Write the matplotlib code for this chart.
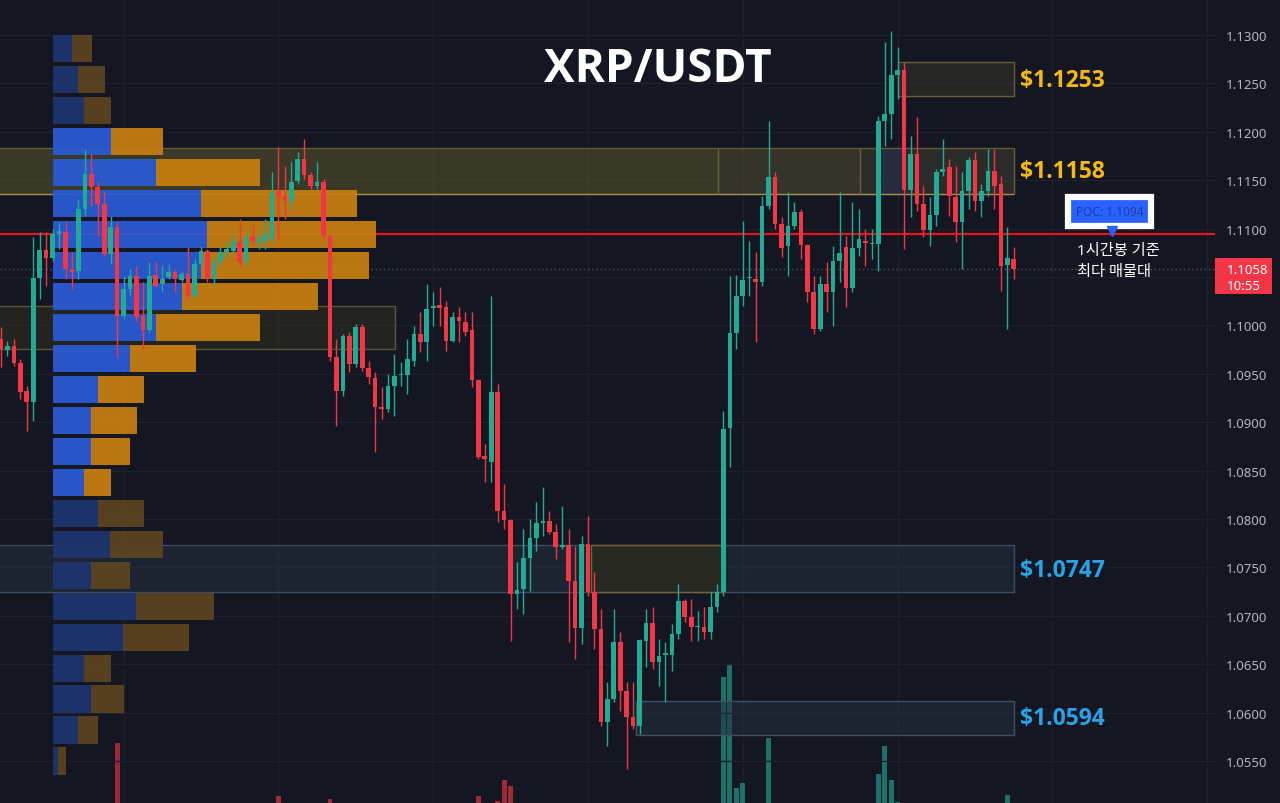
import numpy as np
import matplotlib
matplotlib.use('Agg')
import matplotlib.pyplot as plt
import matplotlib.transforms as mtransforms
from matplotlib.patches import Rectangle
from matplotlib.colors import to_rgba

plt.rcParams['font.family'] = ['Noto Sans', 'Noto Sans CJK KR', 'DejaVu Sans']

# 1h candles, XRP/USDT
opens = [1.0986, 1.0975, 1.0979, 1.0961, 1.0932, 1.0921, 1.1049, 1.1078, 1.1070, 1.1094,
         1.1096, 1.1058, 1.1056, 1.1120, 1.1156, 1.1143, 1.1125, 1.1074, 1.1102, 1.1010,
         1.1038, 1.1051, 1.1010, 1.0995, 1.1052, 1.1043, 1.1050, 1.1055, 1.1047, 1.1053,
         1.1030, 1.1063, 1.1077, 1.1048, 1.1065, 1.1076, 1.1077, 1.1086, 1.1065, 1.1091,
         1.1085, 1.1087, 1.1089, 1.1139, 1.1134, 1.1129, 1.1149, 1.1172, 1.1155, 1.1144,
         1.1148, 1.1092, 1.0967, 1.0932, 1.0989, 1.0960, 1.0998, 1.0956, 1.0946, 1.0916,
         1.0914, 1.0937, 1.0949, 1.0949, 1.0963, 1.0991, 1.0983, 1.1018, 1.1021, 1.1019,
         1.0984, 1.1009, 1.1004, 1.0995, 1.0944, 1.0865, 1.0859, 1.0931, 1.0808, 1.0799,
         1.0723, 1.0728, 1.0760, 1.0780, 1.0796, 1.0798, 1.0787, 1.0771, 1.0773, 1.0736,
         1.0687, 1.0774, 1.0725, 1.0686, 1.0590, 1.0614, 1.0673, 1.0622, 1.0595, 1.0586,
         1.0674, 1.0693, 1.0652, 1.0660, 1.0660, 1.0681, 1.0715, 1.0699, 1.0688, 1.0688,
         1.0683, 1.0709, 1.0725, 1.0894, 1.0992, 1.1030, 1.1049, 1.1048, 1.1045, 1.1123,
         1.1153, 1.1105, 1.1082, 1.1103, 1.1117, 1.1083, 1.1034, 1.0996, 1.1043, 1.1034,
         1.1067, 1.1081, 1.1039, 1.1080, 1.1087, 1.1084, 1.1084, 1.1211, 1.1218, 1.1259,
         1.1264, 1.1140, 1.1177, 1.1125, 1.1099, 1.1114, 1.1158, 1.1164, 1.1133, 1.1107,
         1.1139, 1.1171, 1.1129, 1.1139, 1.1160, 1.1146, 1.1062, 1.1069]
highs = [1.0998, 1.0984, 1.0986, 1.0965, 1.0937, 1.1091, 1.1096, 1.1096, 1.1100, 1.1107,
         1.1107, 1.1076, 1.1131, 1.1182, 1.1177, 1.1148, 1.1138, 1.1113, 1.1107, 1.1051,
         1.1058, 1.1061, 1.1045, 1.1065, 1.1065, 1.1061, 1.1063, 1.1058, 1.1056, 1.1081,
         1.1069, 1.1082, 1.1079, 1.1072, 1.1082, 1.1086, 1.1094, 1.1110, 1.1098, 1.1104,
         1.1098, 1.1110, 1.1158, 1.1184, 1.1165, 1.1169, 1.1179, 1.1193, 1.1158, 1.1169,
         1.1151, 1.1094, 1.0986, 1.0991, 1.0993, 1.1001, 1.1001, 1.0963, 1.0952, 1.0936,
         1.0950, 1.0970, 1.0962, 1.0986, 1.0999, 1.1014, 1.1043, 1.1034, 1.1040, 1.1025,
         1.1014, 1.1019, 1.1014, 1.1014, 1.0945, 1.0877, 1.1030, 1.0939, 1.0836, 1.0800,
         1.0756, 1.0790, 1.0800, 1.0818, 1.0833, 1.0808, 1.0795, 1.0813, 1.0790, 1.0772,
         1.0782, 1.0803, 1.0745, 1.0707, 1.0632, 1.0707, 1.0683, 1.0632, 1.0632, 1.0676,
         1.0707, 1.0709, 1.0676, 1.0673, 1.0692, 1.0733, 1.0717, 1.0717, 1.0705, 1.0709,
         1.0725, 1.0733, 1.0912, 1.1051, 1.1052, 1.1108, 1.1087, 1.1076, 1.1134, 1.1211,
         1.1158, 1.1112, 1.1138, 1.1127, 1.1120, 1.1084, 1.1051, 1.1051, 1.1065, 1.1082,
         1.1138, 1.1092, 1.1127, 1.1120, 1.1100, 1.1100, 1.1216, 1.1293, 1.1304, 1.1288,
         1.1272, 1.1196, 1.1215, 1.1144, 1.1133, 1.1162, 1.1193, 1.1172, 1.1165, 1.1158,
         1.1174, 1.1179, 1.1146, 1.1182, 1.1182, 1.1154, 1.1102, 1.1081]
lows = [1.0957, 1.0968, 1.0958, 1.0924, 1.0891, 1.0901, 1.1027, 1.1041, 1.1067, 1.1079,
        1.1048, 1.1038, 1.1048, 1.1113, 1.1123, 1.1092, 1.1072, 1.1063, 1.0967, 1.1007,
        1.1030, 1.1005, 1.0976, 1.0993, 1.1040, 1.1034, 1.1048, 1.1034, 1.1045, 1.1027,
        1.1027, 1.1061, 1.1045, 1.1041, 1.1061, 1.1071, 1.1074, 1.1061, 1.1063, 1.1083,
        1.1079, 1.1079, 1.1086, 1.1089, 1.1110, 1.1120, 1.1146, 1.1151, 1.1141, 1.1141,
        1.1089, 1.0963, 1.0896, 1.0927, 1.0952, 1.0957, 1.0953, 1.0939, 1.0869, 1.0903,
        1.0911, 1.0906, 1.0937, 1.0929, 1.0958, 1.0973, 1.0963, 1.0999, 1.0999, 1.0974,
        1.0983, 1.0983, 1.0989, 1.0936, 1.0862, 1.0838, 1.0838, 1.0797, 1.0790, 1.0674,
        1.0707, 1.0702, 1.0726, 1.0767, 1.0782, 1.0785, 1.0759, 1.0769, 1.0673, 1.0655,
        1.0671, 1.0720, 1.0666, 1.0586, 1.0565, 1.0611, 1.0602, 1.0542, 1.0583, 1.0578,
        1.0647, 1.0645, 1.0627, 1.0611, 1.0643, 1.0676, 1.0694, 1.0674, 1.0674, 1.0676,
        1.0676, 1.0704, 1.0720, 1.0854, 1.0976, 1.1020, 1.1030, 1.0983, 1.1041, 1.1120,
        1.1100, 1.1071, 1.1051, 1.1100, 1.1069, 1.1024, 1.0991, 1.0994, 1.1014, 1.0999,
        1.1045, 1.1019, 1.1034, 1.1072, 1.1061, 1.1069, 1.1056, 1.1185, 1.1193, 1.1234,
        1.1079, 1.1112, 1.1118, 1.1091, 1.1082, 1.1103, 1.1154, 1.1113, 1.1086, 1.1058,
        1.1120, 1.1118, 1.1112, 1.1134, 1.1120, 1.1036, 1.0996, 1.1048]
closes = [1.0976, 1.0979, 1.0961, 1.0931, 1.0921, 1.1049, 1.1078, 1.1070, 1.1094, 1.1098,
          1.1058, 1.1055, 1.1120, 1.1156, 1.1143, 1.1125, 1.1074, 1.1102, 1.1010, 1.1038,
          1.1051, 1.1009, 1.0995, 1.1051, 1.1041, 1.1048, 1.1055, 1.1048, 1.1053, 1.1030,
          1.1063, 1.1077, 1.1048, 1.1065, 1.1076, 1.1079, 1.1087, 1.1065, 1.1091, 1.1087,
          1.1090, 1.1094, 1.1138, 1.1134, 1.1129, 1.1148, 1.1172, 1.1155, 1.1144, 1.1148,
          1.1092, 1.0967, 1.0932, 1.0989, 1.0960, 1.0998, 1.0956, 1.0947, 1.0916, 1.0914,
          1.0937, 1.0948, 1.0950, 1.0965, 1.0991, 1.0983, 1.1017, 1.1020, 1.1018, 1.0984,
          1.1009, 1.1005, 1.0993, 1.0944, 1.0864, 1.0862, 1.0931, 1.0808, 1.0799, 1.0723,
          1.0727, 1.0760, 1.0780, 1.0796, 1.0798, 1.0787, 1.0771, 1.0773, 1.0736, 1.0687,
          1.0774, 1.0725, 1.0686, 1.0590, 1.0614, 1.0673, 1.0622, 1.0595, 1.0586, 1.0675,
          1.0693, 1.0652, 1.0658, 1.0662, 1.0681, 1.0715, 1.0699, 1.0688, 1.0688, 1.0683,
          1.0709, 1.0725, 1.0893, 1.0992, 1.1030, 1.1047, 1.1050, 1.1045, 1.1123, 1.1153,
          1.1105, 1.1080, 1.1103, 1.1117, 1.1083, 1.1034, 1.0996, 1.1043, 1.1034, 1.1067,
          1.1075, 1.1039, 1.1080, 1.1089, 1.1085, 1.1084, 1.1211, 1.1218, 1.1259, 1.1264,
          1.1140, 1.1177, 1.1125, 1.1099, 1.1114, 1.1158, 1.1162, 1.1134, 1.1107, 1.1139,
          1.1171, 1.1129, 1.1139, 1.1160, 1.1144, 1.1061, 1.1070, 1.1058]

# volume (only the visible bars)
vol_idx = [18, 43, 51, 74, 77, 78, 79, 112, 113, 114, 115, 119, 136, 137, 138, 139, 156]
vol_val = [6.0, 0.7, 0.4, 0.7, 0.2, 2.3, 1.7, 12.6, 13.8, 1.5, 2.0, 6.5, 2.9, 5.7, 2.3, 0.1, 0.8]

# visible-range volume profile, rows from top
vp_top = 1.1302
vp_step = 0.0032
vp_up = [19, 25, 31, 58, 103, 148, 154, 148, 129, 103, 77, 45,
         38, 38, 31, 45, 57, 38, 83, 70, 31, 38, 25, 5]
vp_down = [20, 27, 27, 52, 104, 156, 169, 168, 136, 104, 66, 46,
           46, 39, 27, 46, 53, 39, 78, 66, 27, 33, 20, 8]
va_rows = (3, 14)

poc = 1.1094
last_price = 1.1058
last_time = '10:55'

# key levels: (low, high, start, end)
zones_gold = [(1.1237, 1.1272, 139, 157), (1.1136, 1.1183, -1, 157)]
zones_blue = [(1.0725, 1.0773, -1, 157), (1.0577, 1.0612, 98.5, 157)]
level_labels = [('$1.1253', 1.1254, '#f5b914'), ('$1.1158', 1.1160, '#f5b914'),
                ('$1.0747', 1.0747, '#29a3e6'), ('$1.0594', 1.0594, '#29a3e6')]

BG = '#141722'
GREEN = '#22ab94'
RED = '#f23645'
BOLD = ['Open Sans', 'DejaVu Sans']

fig = plt.figure(figsize=(12.8, 8.04), dpi=100, facecolor=BG)
rect = [0, 0, 1215 / 1280, 1]
axv = fig.add_axes(rect)
ax = fig.add_axes(rect, sharex=axv)
axv.set_zorder(0)
ax.set_zorder(1)
ax.patch.set_alpha(0)
axv.set_facecolor(BG)

n = len(opens)
x = np.arange(n)
o, h, l, c = (np.array(a) for a in (opens, highs, lows, closes))

ax.set_xlim(-0.155, 188.2)
ax.set_ylim(1.050661, 1.133719)

# grid
for gx in np.arange(19, 190, 24):
    axv.axvline(gx, color='#1d212c', lw=1, zorder=0)
ticks = [round(1.055 + 0.005 * k, 4) for k in range(16)]
for t in ticks:
    ax.axhline(t, color='#1d212c', lw=1, zorder=0.5)

# volume
vcol = [GREEN if closes[i] >= opens[i] else RED for i in vol_idx]
axv.bar(vol_idx, vol_val, width=0.75, color=vcol, alpha=0.62, linewidth=0)
axv.set_ylim(0, 80.4)
axv.axis('off')


def zone(lo, hi, x0, x1, fc, ec, a=0.55, z=1):
    ax.add_patch(Rectangle((x0, lo), x1 - x0, hi - lo, facecolor=to_rgba(fc, a),
                           edgecolor=ec, lw=1, zorder=z))


zone(*zones_gold[0], '#353429', '#645f3a')
lo, hi, x0, x1 = zones_gold[1]
zone(lo, hi, x0, 111.2, '#5b552b', 'none')
zone(lo, hi, 111.2, 133.2, '#504c31', 'none')
zone(lo, hi, 133.2, x1, '#3e3d2f', 'none')
zone(lo, hi, 136.2, 140.2, '#202e4d', 'none', a=0.6)
ax.hlines(hi, x0, x1, color='#615a36', lw=1, zorder=1.2)
ax.hlines(lo, x0, x1, color='#a6934a', lw=1, zorder=1.2)
ax.vlines([111.2, 133.2, x1], lo, hi, color='#6a6238', lw=1, zorder=1.2)
zone(1.0976, 1.1020, -1, 61.1, '#31301d', '#5b5636')
zone(*zones_blue[0], '#23303f', '#3d4d5f')
zone(zones_blue[0][0], zones_blue[0][1], 91.5, 112, '#352e1a', '#6f6535', z=1.1)
zone(*zones_blue[1], '#23303f', '#3f5063')

# POC and last price lines
ax.axhline(poc, color='#e5151b', lw=1.6, zorder=2.5)
ax.axhline(last_price, color='#4d505b', lw=1, ls=(0, (1, 2)), zorder=2)

# volume profile
vp_x0 = 52 / 6.45
for k in range(len(vp_up)):
    yc = vp_top - (k + 0.5) * vp_step
    bright = va_rows[0] <= k <= va_rows[1]
    cu = '#2a5bd7' if bright else '#1e3570'
    cd = '#c97f10' if bright else '#5c4420'
    wu = vp_up[k] / 6.45
    wd = vp_down[k] / 6.45
    ax.barh(yc, wu, left=vp_x0, height=0.0028, color=cu, alpha=0.92, lw=0, zorder=3)
    ax.barh(yc, wd, left=vp_x0 + wu, height=0.0028, color=cd, alpha=0.92, lw=0, zorder=3)

# candles
up = c >= o
col = np.where(up, GREEN, RED)
ax.vlines(x, l, h, colors=col, lw=1.0, zorder=4)
ax.bar(x, np.maximum(np.abs(c - o), 0.00012), bottom=np.minimum(o, c), width=0.72,
       color=col, lw=0, zorder=5)

# level labels
for txt, price, color in level_labels:
    ax.text(158, price, txt, color=color, fontsize=16.5, fontweight='bold',
            family=BOLD, ha='left', va='center', zorder=6)

# POC tag
ax.text(171.9, 1.11175, 'POC: 1.1094', color='#1c3d9e', fontsize=8.5, ha='center',
        va='center', zorder=7,
        bbox=dict(boxstyle='square,pad=0.65', fc='#2962ff', ec='white', lw=4.5))
ax.plot([172.2], [1.10975], marker='v', ms=7, color='#2962ff', zorder=7)
ax.text(166.8, 1.1077, '1시간봉 기준', color='white', fontsize=11, ha='left',
        va='center', zorder=7)
ax.text(166.8, 1.1056, '최다 매물대', color='white', fontsize=11, ha='left',
        va='center', zorder=7)

# title
fig.text(658 / 1280, 1 - 70 / 804, 'XRP/USDT', color='white', fontsize=33,
         fontweight='bold', family=BOLD, ha='center', va='center')

# price scale (the 1.1050 label sits under the last-price tag)
ax.yaxis.tick_right()
ax.set_yticks(ticks)
ax.set_yticklabels(['' if abs(t - 1.105) < 1e-9 else '{:.4f}'.format(t) for t in ticks])
ax.tick_params(axis='y', colors='#b2b5be', labelsize=9.5, length=0, pad=8)
ax.tick_params(axis='x', bottom=False, labelbottom=False)
for s in ax.spines.values():
    s.set_visible(False)

# last price tag, drawn over the price scale
tr = mtransforms.blended_transform_factory(fig.transFigure, ax.transData)
ax.add_patch(Rectangle((1215 / 1280, last_price - 0.0026), 57 / 1280, 0.0038,
                       transform=tr, facecolor=RED, edgecolor='none',
                       zorder=10, clip_on=False))
ax.text(1227 / 1280, last_price, '{:.4f}'.format(last_price), transform=tr,
        color='white', fontsize=9.5, ha='left', va='center', zorder=11, clip_on=False)
ax.text(1227 / 1280, last_price - 0.00165, last_time, transform=tr,
        color='white', fontsize=9.5, ha='left', va='center', zorder=11, clip_on=False)

fig.savefig('out.png', dpi=100, facecolor=BG)
